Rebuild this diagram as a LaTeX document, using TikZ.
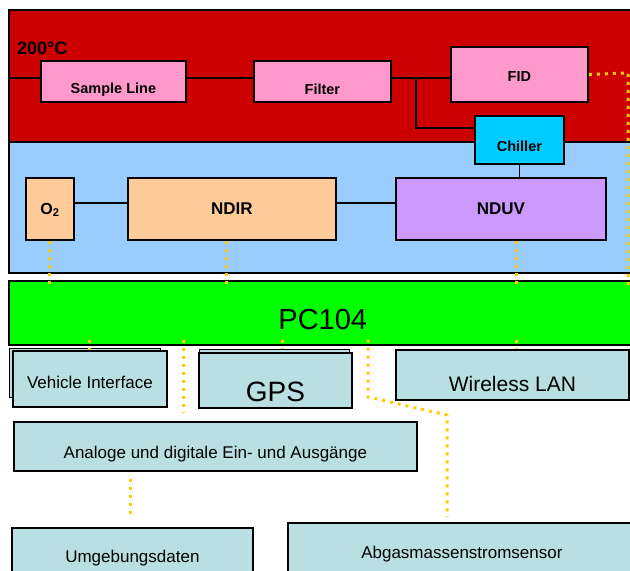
\documentclass[tikz,border=0pt]{standalone}
\usepackage{fontspec}
\setmainfont{Liberation Sans}
\definecolor{heiss}{RGB}{204,0,0}
\definecolor{kalt}{RGB}{153,204,255}
\definecolor{rosa}{RGB}{255,153,204}
\definecolor{eis}{RGB}{0,204,255}
\definecolor{pfirsich}{RGB}{255,204,153}
\definecolor{lila}{RGB}{204,153,255}
\definecolor{platine}{RGB}{0,255,0}
\definecolor{modul}{RGB}{186,223,226}
\definecolor{gelb}{RGB}{255,204,0}
\tikzset{
  kasten/.style={draw,line width=1.8pt,inner sep=0pt,anchor=north west},
  hinten/.style={draw,line width=1pt,fill=modul,anchor=north west},
  bus/.style={draw=gelb,line width=3pt,dash pattern=on 3pt off 5pt},
  leitung/.style={line width=1.5pt}
}
\def\verbinde#1#2{\draw[leitung] #1 -- #2;}
\def\kabel#1#2#3{\draw[bus,#1] #2 -- #3;}
\def\tief#1#2{\raisebox{-#1}[\height][\depth]{#2}}

\begin{document}
\begin{tikzpicture}[x=1pt,y=-1pt]
\clip (0,0) rectangle (630,571);
\coordinate (ein) at (8,78);
\coordinate (kn) at (416,78);
\coordinate (kn2) at (416,128);
\coordinate (mess) at (0,203);
\coordinate (ecke) at (628,73);
\coordinate (x1) at (226,0);
\coordinate (x2) at (282,0);
\coordinate (x3) at (516,0);
\coordinate (b1) at (183,412);
\coordinate (k1) at (368,397);
\coordinate (k2) at (447,415);
\coordinate (k3) at (447,517);
\coordinate (b2) at (130,518);
% Gehaeuse
\node[kasten,line width=1.5pt,fill=heiss,minimum width=628pt,minimum height=132pt] (heiss) at (8,9) {};
\node[kasten,line width=1.5pt,fill=kalt,minimum width=628pt,minimum height=131pt] (kalt) at (8,141) {};
\node[kasten,line width=1.5pt,fill=platine,minimum width=628pt,minimum height=64pt,font=\fontsize{29}{31}\selectfont] (pc) at (8,280) {\tief{7pt}{PC104}};
\node[anchor=west,inner sep=0pt,font=\fontsize{18}{20}\selectfont\bfseries] (temp) at (17,48) {200°C};
% beheizter Teil
\node[kasten,fill=rosa,minimum width=145pt,minimum height=41pt,font=\fontsize{14.5}{16}\selectfont\bfseries] (sl) at (40,60) {\tief{8.5pt}{Sample Line}};
\node[kasten,fill=rosa,minimum width=137pt,minimum height=41pt,font=\fontsize{14.5}{16}\selectfont\bfseries] (fil) at (253,60) {\tief{8pt}{Filter}};
\node[kasten,fill=rosa,minimum width=137pt,minimum height=55pt,font=\fontsize{14.5}{16}\selectfont\bfseries] (fid) at (450,46) {\tief{2pt}{FID}};
\node[kasten,fill=eis,minimum width=89pt,minimum height=48pt,font=\fontsize{14.5}{16}\selectfont\bfseries] (chi) at (474,115) {\tief{6pt}{Chiller}};
% Analysatoren
\node[kasten,fill=pfirsich,minimum width=48pt,minimum height=62pt,font=\fontsize{16}{18}\selectfont\bfseries] (o2) at (25,177) {\tief{1pt}{O\textsubscript{2}}};
\node[kasten,fill=pfirsich,minimum width=208pt,minimum height=62pt,font=\fontsize{17}{19}\selectfont\bfseries] (ndir) at (127,177) {NDIR};
\node[kasten,fill=lila,minimum width=210pt,minimum height=62pt,font=\fontsize{17}{19}\selectfont\bfseries] (nduv) at (395,177) {NDUV};
% Peripherie
\node[hinten,minimum width=151pt,minimum height=49pt] (vib) at (9,348) {};
\node[kasten,fill=modul,minimum width=154pt,minimum height=56pt,font=\fontsize{17}{19}\selectfont] (vi) at (12,350) {\tief{4pt}{Vehicle Interface}};
\node[hinten,minimum width=150pt,minimum height=50pt] (gpsb) at (199,349) {};
\node[kasten,fill=modul,minimum width=153pt,minimum height=55pt,font=\fontsize{28}{30}\selectfont] (gps) at (198,352) {\tief{11pt}{GPS}};
\node[kasten,fill=modul,minimum width=233pt,minimum height=50pt,font=\fontsize{21}{23}\selectfont] (wlan) at (395,349) {\tief{9pt}{Wireless LAN}};
\node[kasten,fill=modul,minimum width=403pt,minimum height=49pt,font=\fontsize{17}{19}\selectfont] (ana) at (13,421) {\tief{7.5pt}{Analoge und digitale Ein- und Ausgänge}};
\node[kasten,fill=modul,minimum width=241pt,minimum height=60pt,font=\fontsize{17}{19}\selectfont] (umg) at (11,527) {Umgebungsdaten};
\node[kasten,fill=modul,minimum width=348pt,minimum height=62pt,font=\fontsize{17}{19}\selectfont] (abg) at (287,522) {Abgasmassenstromsensor};
% Gasweg
\verbinde{(ein)}{(ein -| sl.west)}
\verbinde{(sl.east |- ein)}{(fil.west |- ein)}
\verbinde{(fil.east |- ein)}{(fid.west |- ein)}
\draw[leitung] (kn) -- (kn2) -- (chi.west |- kn2);
\verbinde{(chi.south)}{(chi.south |- nduv.north)}
\verbinde{(o2.east |- mess)}{(ndir.west |- mess)}
\verbinde{(ndir.east |- mess)}{(nduv.west |- mess)}
% Datenleitungen
\kabel{shorten >=-8pt}{(o2.south)}{(o2.south |- pc.north)}
\kabel{shorten >=-8pt}{(x1 |- ndir.south)}{(x1 |- pc.north)}
\kabel{shorten >=-4pt}{(x3 |- nduv.south)}{(x3 |- pc.north)}
\draw[bus,shorten >=-5pt] (fid.east) -- (ecke) -- (ecke |- pc.north);
\kabel{shorten <=-6pt}{(pc.south -| vi.north)}{(vi.north)}
\kabel{shorten <=-6pt}{(pc.south -| b1)}{(b1)}
\kabel{shorten <=-6pt,shorten >=4pt}{(x2 |- pc.south)}{(x2 |- gps.north)}
\kabel{shorten <=-6pt}{(x3 |- pc.south)}{(x3 |- wlan.north)}
\draw[bus,shorten <=-6pt] (pc.south -| k1) -- (k1) -- (k2) -- (k3);
\kabel{shorten <=7pt}{(ana.south -| b2)}{(b2)}
\end{tikzpicture}
\end{document}
